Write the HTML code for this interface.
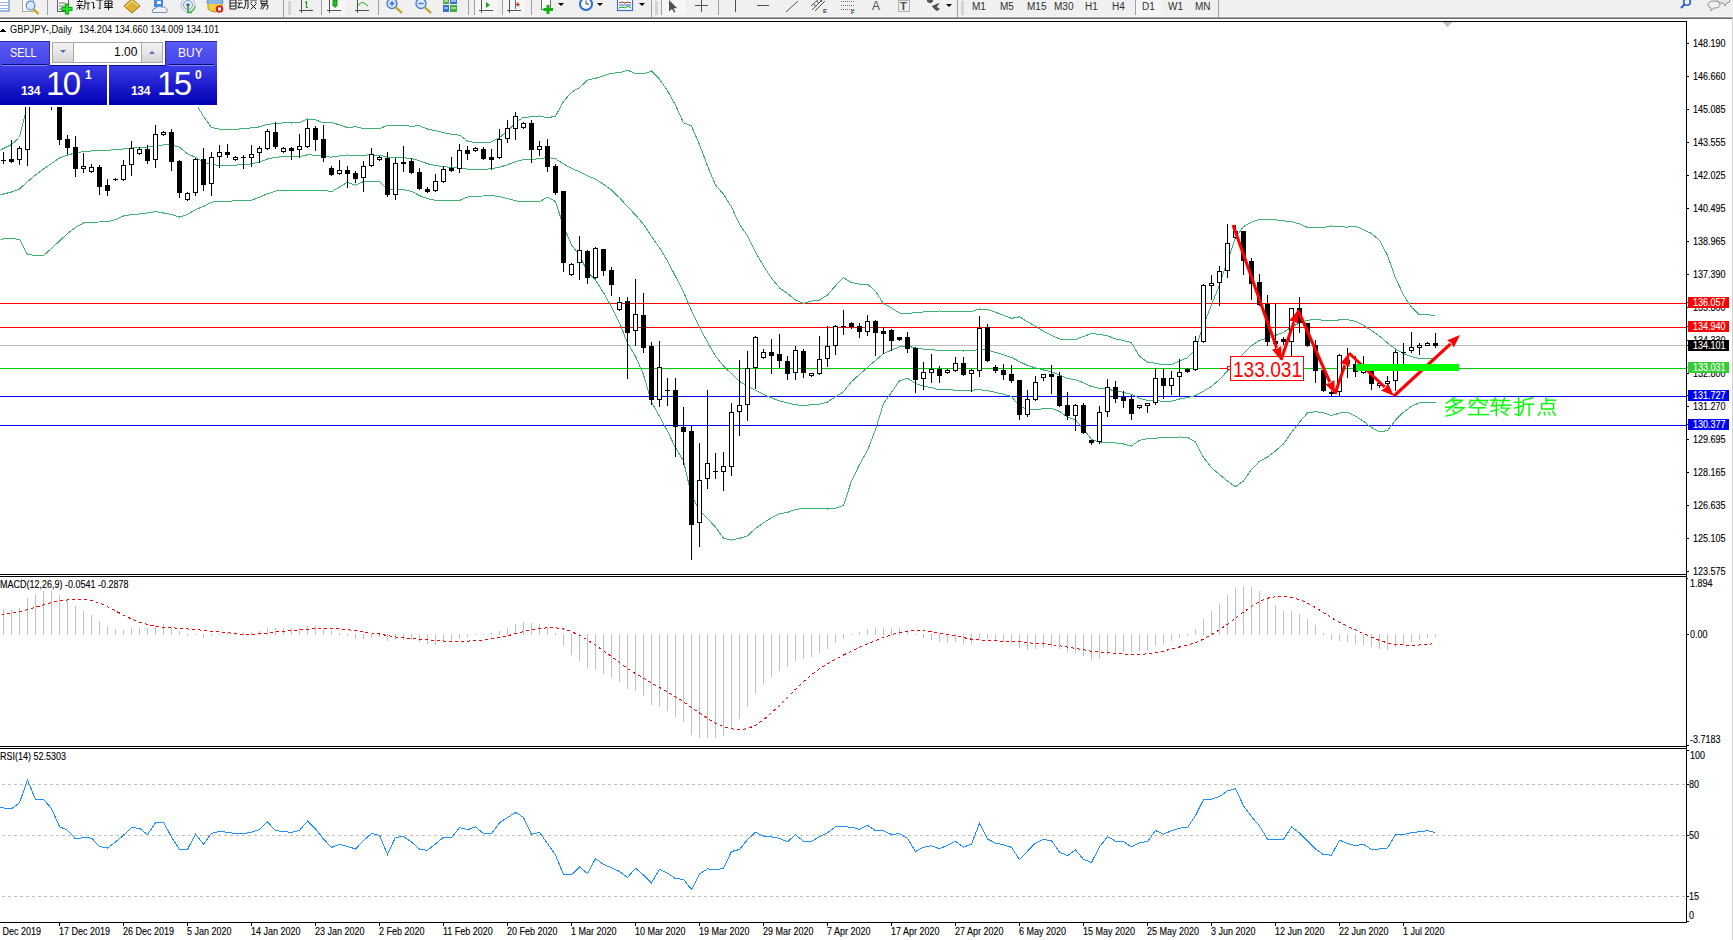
<!DOCTYPE html>
<html><head><meta charset="utf-8"><style>
html,body{margin:0;padding:0;width:1733px;height:940px;overflow:hidden;background:#fff;font-family:"Liberation Sans",sans-serif;}
</style></head><body>
<div style="position:absolute;left:0;top:0;width:1733px;height:17px;background:#f0f0f0"></div>
<div style="position:absolute;left:0;top:17px;width:1733px;height:1px;background:#a0a0a0"></div>
<div style="position:absolute;left:0;top:18px;width:1733px;height:1px;background:#6a6a6a"></div>
<div style="position:absolute;left:0;top:16px;width:1733px;height:1px;background:#f6f6f6"></div>
<svg style="position:absolute;left:0;top:0" width="1733" height="17">
<!-- doc icon -->
<rect x="-2" y="-2" width="11" height="13" fill="#fff" stroke="#3a7ad0" stroke-width="1"/>
<path d="M0 2.5h8M0 5.5h8M0 8.5h8" stroke="#9ab8e8" stroke-width="1"/>
<!-- print preview -->
<rect x="22.5" y="-1.5" width="11" height="13" fill="#fafafa" stroke="#b0a890"/>
<circle cx="30.5" cy="5.5" r="4.3" fill="#dceaf6" stroke="#5a8ed8" stroke-width="1.2"/>
<path d="M33.5 9 L38.5 14" stroke="#c8a020" stroke-width="2.2"/>
<rect x="47" y="0" width="1" height="15" fill="#a0a0a0"/>
<!-- new order -->
<rect x="57.5" y="-1.5" width="11" height="13" fill="#fafafa" stroke="#606060"/>
<path d="M59 3h6M59 6h6M59 9h4" stroke="#707070" stroke-width="1"/>
<path d="M67 3.5 V14.5 M61.5 9 H72.5" stroke="#0a8a0a" stroke-width="4.2"/><path d="M67 4.2 V13.8 M62.2 9 H71.8" stroke="#22e022" stroke-width="2.6"/>
<!-- gold book -->
<path d="M124 6 L132 -1 L140 6 L132 13 Z" fill="#e0b030" stroke="#9a6a10" stroke-width="1"/>
<path d="M125 7 L132 1 L139 6" fill="none" stroke="#fff0a0" stroke-width="1"/>
<!-- cloud -->
<rect x="154" y="-2" width="9" height="9" fill="#3a8ae8"/>
<rect x="157" y="1" width="4" height="3" fill="#fff"/>
<path d="M152 12 Q152 8 156 8 Q158 5 162 7 Q167 7 167 10 Q168 12 166 12.5 L153 12.5 Z" fill="#eef2f8" stroke="#7890b8" stroke-width="1"/>
<!-- signal -->
<circle cx="188" cy="5" r="7" fill="none" stroke="#a8c0e0" stroke-width="1"/>
<circle cx="188" cy="5" r="4.5" fill="none" stroke="#6a98d8" stroke-width="1"/>
<circle cx="188" cy="5" r="1.8" fill="#2a60c8"/>
<path d="M188 5 V12.5 H192" stroke="#30a030" stroke-width="1.5" fill="none"/>
<path d="M190 12 A7 7 0 0 0 195 6" stroke="#70c070" stroke-width="2" fill="none"/>
<!-- auto trade -->
<ellipse cx="215" cy="2" rx="8" ry="4" fill="#8ab8e0" stroke="#5a88b8"/>
<path d="M208 4 L208 9 Q215 15 222 9 L222 4" fill="#f0d040" stroke="#b09020"/>
<circle cx="219.5" cy="9" r="3.8" fill="#d82020"/>
<rect x="218" y="7.5" width="3" height="3" fill="#fff"/>
<!-- separators / grips -->
<rect x="283" y="0" width="1" height="17" fill="#a0a0a0"/>
<path d="M288 2h3M288 4h3M288 6h3M288 8h3M288 10h3M288 12h3M288 14h3" stroke="#b8b8b8" stroke-width="1"/>
<!-- bar chart icon -->
<path d="M301.5 0 V13 M299 10.5 H313" stroke="#505050" stroke-width="1"/>
<path d="M310 11 l3 -0.5 l-3 -1" fill="#505050"/>
<path d="M306.5 1 V8 M306.5 7.5 H308 M305 2.5 H306.5" stroke="#20a020" stroke-width="1.2"/>
<rect x="321" y="0" width="1" height="15" fill="#a0a0a0"/>
<rect x="322" y="0" width="24" height="15" fill="#f6f6f6"/>
<path d="M329.5 0 V13 M327 10.5 H341" stroke="#505050" stroke-width="1"/>
<rect x="333" y="0" width="4" height="6" fill="#20c020" stroke="#108010" stroke-width="0.8"/>
<path d="M335 6 V8" stroke="#108010"/>
<path d="M357.5 0 V13 M355 10.5 H369" stroke="#505050" stroke-width="1"/>
<path d="M357 7 Q361 1 364 3 L368 6" stroke="#20a020" stroke-width="1" fill="none"/>
<rect x="378" y="0" width="1" height="15" fill="#a0a0a0"/>
<!-- zoom in/out -->
<circle cx="392" cy="3.5" r="5" fill="#d8e8f8" stroke="#4a80d0" stroke-width="1.4"/>
<path d="M389.5 3.5h5M392 1v5" stroke="#3a70c8" stroke-width="1.3"/>
<path d="M395.5 7 L402 13" stroke="#c8a020" stroke-width="2.3"/>
<circle cx="421" cy="3.5" r="5" fill="#d8e8f8" stroke="#4a80d0" stroke-width="1.4"/>
<path d="M418.5 3.5h5" stroke="#3a70c8" stroke-width="1.3"/>
<path d="M424.5 7 L431 13" stroke="#c8a020" stroke-width="2.3"/>
<!-- tile windows -->
<rect x="443" y="-1" width="6" height="5" fill="#40b040"/><rect x="450" y="-1" width="7" height="5" fill="#3a70d0"/>
<rect x="443" y="5" width="6" height="7" fill="#3a70d0"/><rect x="450" y="5" width="7" height="7" fill="#40b040"/>
<path d="M444 1h4M451 1h5M444 8h4M451 8h5" stroke="#fff" stroke-width="1"/>
<rect x="468" y="0" width="1" height="15" fill="#a0a0a0"/>
<rect x="474" y="0" width="1" height="15" fill="#a0a0a0"/>
<rect x="475" y="0" width="22" height="15" fill="#f6f6f6"/>
<path d="M481.5 0 V13 M479 10.5 H493" stroke="#505050" stroke-width="1"/>
<path d="M486 2 L490 5 L486 8 Z" fill="#20a020"/>
<rect x="502" y="0" width="1" height="15" fill="#a0a0a0"/>
<rect x="503" y="0" width="22" height="15" fill="#f6f6f6"/>
<path d="M509.5 0 V13 M507 10.5 H521" stroke="#505050" stroke-width="1"/>
<path d="M515.5 0 V9" stroke="#3a70c8" stroke-width="1"/>
<path d="M520 4.5 L516.5 4.5 M518.5 2.5 L516.5 4.5 L518.5 6.5" stroke="#d04010" stroke-width="1.2" fill="none"/>
<rect x="531" y="0" width="1" height="15" fill="#a0a0a0"/>
<!-- indicators add -->
<rect x="541.5" y="-1.5" width="9" height="11" fill="#fafafa" stroke="#707070"/>
<path d="M548 5 V14 M543.5 9.5 H553" stroke="#10b010" stroke-width="3"/>
<path d="M558 3 L564 3 L561 6 Z" fill="#000"/>
<!-- clock -->
<circle cx="586" cy="4" r="7" fill="#2a70d8"/>
<circle cx="586" cy="4" r="5" fill="#f4f8ff"/>
<path d="M586 0.5 V4 H589" stroke="#404040" stroke-width="1" fill="none"/>
<path d="M597 3 L603 3 L600 6 Z" fill="#000"/>
<!-- templates -->
<rect x="617.5" y="-1.5" width="15" height="12" fill="#f8fbff" stroke="#3a70d0" stroke-width="1.2"/>
<path d="M619 3 L622 2 L625 3 L628 2 L631 3" stroke="#b03010" fill="none"/>
<path d="M619 8 L622 7 L625 8 L628 6 L631 8" stroke="#10a010" fill="none"/>
<path d="M619 5h12" stroke="#3a70d0"/>
<path d="M639 3 L645 3 L642 6 Z" fill="#000"/>
<rect x="651" y="0" width="1" height="17" fill="#a0a0a0"/>
<path d="M655 2h3M655 4h3M655 6h3M655 8h3M655 10h3M655 12h3M655 14h3" stroke="#b8b8b8" stroke-width="1"/>
<rect x="661" y="0" width="1" height="15" fill="#a0a0a0"/>
<rect x="662" y="0" width="24" height="15" fill="#f6f6f6"/>
<path d="M669 0 L677 8 L673.5 8.5 L675.5 12 L674 12.5 L672 9 L669 11.5 Z" fill="#505050"/>
<path d="M701.5 0 V12 M695 5.5 H708" stroke="#505050" stroke-width="1"/>
<rect x="718" y="0" width="1" height="15" fill="#a0a0a0"/>
<path d="M735.5 0 V12" stroke="#505050" stroke-width="1"/>
<path d="M757 5.5 H769" stroke="#505050" stroke-width="1"/>
<path d="M786 12 L798 1" stroke="#505050" stroke-width="1"/>
<!-- channel E -->
<path d="M812 10 L822 0 M815 11 L825 1 M811 6 L821 -3" stroke="#505050" stroke-width="1"/>
<path d="M814 4 L816 7 M817 1 L819 4 M820 -1 L822 2" stroke="#505050"/>
<text x="823" y="13" font-size="6" font-weight="bold" fill="#404040" font-family="Liberation Sans">E</text>
<!-- fibo F -->
<path d="M841 1.5h13M841 5.5h13M841 9.5h13" stroke="#707070" stroke-width="1" stroke-dasharray="1 1"/>
<text x="851" y="14" font-size="6" font-weight="bold" fill="#404040" font-family="Liberation Sans">F</text>
<text x="872" y="10" font-size="12" fill="#505050" font-family="Liberation Sans">A</text>
<rect x="898.5" y="0.5" width="11" height="11" fill="none" stroke="#707070" stroke-dasharray="1 1"/>
<text x="900" y="10" font-size="11" font-weight="bold" fill="#505050" font-family="Liberation Sans">T</text>
<!-- arrows icon -->
<path d="M927 1 L930 -1 L933 1 L930 3 Z M932 6 L935 9 L939 3" fill="#505050" stroke="#505050" stroke-width="1"/>
<path d="M934 9 L937 7 L940 9 L937 11 Z" fill="#505050"/>
<path d="M946 4 L952 4 L949 7 Z" fill="#000"/>
<rect x="957" y="0" width="1" height="17" fill="#a0a0a0"/>
<path d="M961 2h3M961 4h3M961 6h3M961 8h3M961 10h3M961 12h3M961 14h3" stroke="#b8b8b8" stroke-width="1"/>
<rect x="1135" y="0" width="1" height="15" fill="#a0a0a0"/>
<rect x="1136" y="0" width="25" height="15" fill="#f6f6f6"/>
<rect x="1218" y="0" width="1" height="17" fill="#a0a0a0"/>
<g font-family="Liberation Sans" font-size="10" fill="#303030">
<text x="972" y="10">M1</text><text x="1000" y="10">M5</text><text x="1027" y="10">M15</text><text x="1054" y="10">M30</text>
<text x="1085" y="10">H1</text><text x="1112" y="10">H4</text><text x="1142" y="10">D1</text><text x="1168" y="10">W1</text><text x="1195" y="10">MN</text>
</g>
<!-- search + chat -->
<circle cx="1687" cy="2" r="3.3" fill="none" stroke="#2a60d0" stroke-width="1.6"/>
<path d="M1684.5 4.5 L1681 8" stroke="#2a60d0" stroke-width="2.2"/>
<path d="M1708 5 Q1708 1 1714 1 Q1720 1 1720 5 Q1720 8 1714 8 L1711 11 L1711 8 Q1708 7 1708 5 Z" fill="#f0f0f0" stroke="#909090"/>
<path d="M1717 -1 Q1717 -4 1724 -4 Q1730 -4 1730 0 Q1730 3 1726 3.5 L1725 6 L1723 3 Q1717 3 1717 -1 Z" fill="#e8e8e8" stroke="#909090"/>
</svg>
<svg style="position:absolute;left:0;top:0" width="300" height="17">
<g stroke="#101010" stroke-width="0.95" fill="none" transform="translate(0,-1)">
<!-- 新 -->
<path d="M79.5 -1v3M77 2.5h6M78 4l1 1.5M81.5 4l-1 1.5M76.5 6.5h7M79.5 6.5v4M79 8l-2.5 2M80 8l2.5 2"/>
<path d="M85 0.5l4-1M85 0.5v5q0 3-1.5 5M85 4h5M88 4v7"/>
<!-- 订 -->
<path d="M92 0l1 1M91.5 3.5h2v6l1.5-1.5M96 1h7M100 1v9l-1.5-1"/>
<!-- 单 -->
<path d="M106 -1l1 1.5M111 -1l-1 1.5M105 2h7v5h-7zM105 4.5h7M108.5 2v9M104 8.5h9"/>
<!-- 自动交易 -->
<path d="M232 -1l1 1.5M230 1h6v9h-6zM230 4h6M230 7h6"/>
<path d="M238 1h4M237.5 4h5M240 4l-2 5l4-1M242.5 8l0.5 1.5M244 1h4M246 1q0 6-2 9M248 1v8l-1 1"/>
<path d="M253.5 -1v1.5M250 1h7M252 2.5l-1.5 2M255 2.5l1.5 2M251 5l5 5M256 5l-5.5 5.5"/>
<path d="M261 0h6v4.5h-6zM261 2.2h6M261 6h7q0 4-1.5 4.5M263 6l-2.5 4M265 6l-2.5 4.5"/>
</g>
</svg>

<svg width="1733" height="940" style="position:absolute;left:0;top:0" shape-rendering="crispEdges" font-family="Liberation Sans, sans-serif"><defs><clipPath id="cm"><rect x="0" y="22" width="1686" height="552"/></clipPath><clipPath id="cmacd"><rect x="0" y="577" width="1686" height="169"/></clipPath><clipPath id="crsi"><rect x="0" y="749" width="1686" height="173"/></clipPath></defs><rect x="0" y="21" width="1687" height="1" fill="#000"/><rect x="1686" y="21" width="1" height="902" fill="#000"/><rect x="0" y="574" width="1687" height="1" fill="#000"/><rect x="0" y="576" width="1687" height="1" fill="#000"/><rect x="0" y="746" width="1687" height="1" fill="#000"/><rect x="0" y="748" width="1687" height="1" fill="#000"/><rect x="0" y="922" width="1687" height="1" fill="#000"/><rect x="1732" y="18" width="1" height="922" fill="#d0d0d0"/><rect x="0" y="303" width="1686" height="1" fill="#ff0000"/><rect x="0" y="327" width="1686" height="1" fill="#ff0000"/><rect x="0" y="345" width="1686" height="1" fill="#c0c0c0"/><rect x="0" y="368" width="1686" height="1" fill="#00cc00"/><rect x="0" y="396" width="1686" height="1" fill="#0000ff"/><rect x="0" y="425" width="1686" height="1" fill="#0000ff"/><g clip-path="url(#cm)" transform="translate(0.5,0.5)"><path d="M-5 152.0 L3 148.0 L11 144.0 L19 137.0 L27 105.0 L35 90.0 L43 80.0 L51 75.0 L59 70.0 L67 70.0 L75 70.0 L83 70.0 L91 70.0 L99 70.0 L107 70.0 L115 70.0 L123 70.0 L131 70.0 L139 70.0 L147 70.0 L155 78.1 L163 76.8 L171 76.8 L179 75.8 L187 91.9 L195 102.6 L203 116.0 L211 126.9 L219 128.7 L227 129.5 L235 128.8 L243 128.2 L251 127.3 L259 126.4 L267 123.8 L275 123.2 L283 122.3 L291 122.5 L299 122.2 L307 118.5 L315 119.4 L323 122.3 L331 122.0 L339 124.4 L347 127.2 L355 126.2 L363 128.1 L371 127.9 L379 128.2 L387 124.9 L395 125.1 L403 125.3 L411 125.6 L419 125.4 L427 128.5 L435 130.2 L443 132.1 L451 133.9 L459 134.6 L467 140.5 L475 142.3 L483 142.5 L491 141.5 L499 137.1 L507 130.6 L515 122.1 L523 116.7 L531 116.4 L539 115.4 L547 117.2 L555 115.8 L563 101.0 L571 91.7 L579 87.1 L587 79.6 L595 77.8 L603 75.4 L611 72.8 L619 72.2 L627 69.7 L635 73.0 L643 73.5 L651 70.4 L659 78.7 L667 90.2 L675 104.6 L683 122.3 L691 125.4 L699 144.1 L707 165.3 L715 184.5 L723 193.7 L731 206.6 L739 223.9 L747 235.4 L755 251.6 L763 265.4 L771 277.6 L779 287.4 L787 292.9 L795 299.5 L803 302.9 L811 300.6 L819 299.6 L827 294.5 L835 285.3 L843 277.2 L851 282.1 L859 283.6 L867 283.6 L875 290.7 L883 303.3 L891 307.4 L899 312.5 L907 313.0 L915 312.1 L923 311.5 L931 311.2 L939 310.5 L947 310.8 L955 311.0 L963 310.8 L971 311.0 L979 308.5 L987 308.9 L995 311.7 L1003 314.8 L1011 317.9 L1019 316.3 L1027 321.3 L1035 325.7 L1043 330.8 L1051 334.8 L1059 338.4 L1067 339.5 L1075 339.0 L1083 335.9 L1091 333.1 L1099 333.9 L1107 335.4 L1115 338.4 L1123 340.0 L1131 342.3 L1139 355.9 L1147 361.5 L1155 362.8 L1163 364.5 L1171 364.0 L1179 360.5 L1187 357.2 L1195 348.6 L1203 324.2 L1211 304.7 L1219 284.4 L1227 260.4 L1235 237.4 L1243 226.0 L1251 221.6 L1259 219.1 L1267 218.8 L1275 219.3 L1283 220.3 L1291 221.2 L1299 223.4 L1307 226.9 L1315 227.4 L1323 226.9 L1331 225.5 L1339 226.3 L1347 226.6 L1355 225.7 L1363 229.2 L1371 233.0 L1379 239.9 L1387 254.9 L1395 277.5 L1403 294.5 L1411 306.8 L1419 314.3 L1427 314.4 L1435 314.7" fill="none" stroke="#3cb371" stroke-width="1" /><path d="M-5 195.5 L3 193.5 L11 191.5 L19 188.5 L27 181.0 L35 174.5 L43 168.5 L51 163.0 L59 157.5 L67 154.5 L75 152.5 L83 151.0 L91 150.5 L99 150.2 L107 149.8 L115 149.2 L123 148.5 L131 147.6 L139 147.0 L147 146.5 L155 145.8 L163 144.4 L171 144.4 L179 146.7 L187 153.3 L195 156.8 L203 161.6 L211 164.2 L219 164.8 L227 165.2 L235 164.6 L243 164.1 L251 163.4 L259 161.5 L267 158.5 L275 156.9 L283 156.1 L291 156.2 L299 156.0 L307 154.3 L315 154.7 L323 155.9 L331 156.6 L339 155.4 L347 154.5 L355 155.5 L363 154.6 L371 154.4 L379 154.7 L387 156.7 L395 157.0 L403 157.2 L411 158.2 L419 160.2 L427 163.3 L435 165.0 L443 166.1 L451 167.1 L459 167.2 L467 168.6 L475 168.9 L483 169.0 L491 168.2 L499 166.7 L507 164.3 L515 161.2 L523 159.1 L531 158.8 L539 158.3 L547 156.9 L555 158.4 L563 163.4 L571 168.0 L579 171.1 L587 175.3 L595 178.7 L603 183.8 L611 189.6 L619 197.2 L627 206.1 L635 214.4 L643 223.8 L651 235.9 L659 247.3 L667 260.4 L675 275.9 L683 291.4 L691 310.1 L699 326.9 L707 341.6 L715 355.6 L723 365.7 L731 373.1 L739 380.9 L747 385.4 L755 389.8 L763 393.9 L771 397.4 L779 400.4 L787 402.4 L795 404.2 L803 405.4 L811 404.1 L819 403.7 L827 401.5 L835 396.4 L843 391.1 L851 381.2 L859 373.9 L867 366.8 L875 359.9 L883 353.2 L891 349.6 L899 346.4 L907 345.4 L915 347.6 L923 348.6 L931 349.2 L939 349.9 L947 349.8 L955 350.4 L963 350.5 L971 350.4 L979 348.8 L987 349.6 L995 351.8 L1003 354.2 L1011 356.9 L1019 361.1 L1027 365.0 L1035 367.4 L1043 369.5 L1051 371.3 L1059 374.6 L1067 378.0 L1075 379.2 L1083 382.3 L1091 386.0 L1099 387.8 L1107 388.6 L1115 390.4 L1123 391.8 L1131 393.9 L1139 397.8 L1147 399.9 L1155 400.2 L1163 400.8 L1171 400.6 L1179 398.5 L1187 397.1 L1195 395.1 L1203 390.6 L1211 385.9 L1219 379.1 L1227 370.5 L1235 361.8 L1243 353.2 L1251 345.2 L1259 339.9 L1267 337.6 L1275 334.9 L1283 331.9 L1291 326.6 L1299 322.5 L1307 319.6 L1315 319.3 L1323 319.6 L1331 320.3 L1339 319.4 L1347 319.2 L1355 320.8 L1363 324.9 L1371 330.0 L1379 335.6 L1387 342.5 L1395 348.6 L1403 353.1 L1411 356.2 L1419 358.2 L1427 358.3 L1435 358.4" fill="none" stroke="#3cb371" stroke-width="1" /><path d="M-5 238.8 L3 238.5 L11 238.2 L19 238.8 L27 254.0 L35 255.0 L43 255.0 L51 248.0 L59 240.5 L67 233.0 L75 227.0 L83 222.5 L91 221.6 L99 221.5 L107 221.3 L115 219.0 L123 215.5 L131 214.0 L139 213.5 L147 212.5 L155 211.0 L163 212.5 L171 214.0 L179 216.5 L187 214.0 L195 209.0 L203 206.0 L211 201.6 L219 201.0 L227 200.8 L235 200.3 L243 200.0 L251 199.6 L259 196.6 L267 193.2 L275 190.6 L283 189.8 L291 189.8 L299 189.8 L307 190.2 L315 189.9 L323 189.6 L331 191.2 L339 186.5 L347 181.8 L355 184.8 L363 181.0 L371 180.9 L379 181.1 L387 188.5 L395 188.9 L403 189.2 L411 190.8 L419 195.1 L427 198.1 L435 199.8 L443 200.0 L451 200.2 L459 199.9 L467 196.6 L475 195.6 L483 195.5 L491 194.9 L499 196.2 L507 198.1 L515 200.3 L523 201.4 L531 201.3 L539 201.2 L547 196.6 L555 201.0 L563 225.9 L571 244.3 L579 255.0 L587 271.1 L595 279.6 L603 292.2 L611 306.3 L619 322.1 L627 342.5 L635 355.8 L643 374.2 L651 401.4 L659 415.9 L667 430.6 L675 447.3 L683 460.5 L691 494.9 L699 509.6 L707 518.0 L715 526.6 L723 537.7 L731 539.6 L739 537.8 L747 535.3 L755 528.0 L763 522.3 L771 517.2 L779 513.3 L787 511.9 L795 508.9 L803 508.0 L811 507.6 L819 507.8 L827 508.5 L835 507.6 L843 505.1 L851 480.4 L859 464.1 L867 449.9 L875 429.0 L883 403.1 L891 391.9 L899 380.2 L907 377.8 L915 383.0 L923 385.6 L931 387.2 L939 389.4 L947 388.7 L955 389.8 L963 390.2 L971 389.7 L979 389.1 L987 390.2 L995 391.9 L1003 393.7 L1011 396.0 L1019 405.9 L1027 408.7 L1035 409.2 L1043 408.2 L1051 407.8 L1059 410.9 L1067 416.5 L1075 419.5 L1083 428.7 L1091 438.9 L1099 441.7 L1107 441.9 L1115 442.5 L1123 443.5 L1131 445.6 L1139 439.7 L1147 438.3 L1155 437.7 L1163 437.1 L1171 437.3 L1179 436.5 L1187 437.0 L1195 441.5 L1203 457.0 L1211 467.1 L1219 473.9 L1227 480.6 L1235 486.2 L1243 480.4 L1251 468.9 L1259 460.7 L1267 456.5 L1275 450.4 L1283 443.5 L1291 432.0 L1299 421.6 L1307 412.4 L1315 411.2 L1323 412.2 L1331 415.1 L1339 412.6 L1347 411.8 L1355 415.8 L1363 420.7 L1371 427.0 L1379 431.3 L1387 430.1 L1395 419.6 L1403 411.7 L1411 405.7 L1419 402.2 L1427 402.2 L1435 402.2" fill="none" stroke="#3cb371" stroke-width="1" /></g><g clip-path="url(#cmacd)"><rect x="3" y="609" width="1" height="26" fill="#c0c0c0"/><rect x="11" y="610" width="1" height="25" fill="#c0c0c0"/><rect x="19" y="608" width="1" height="27" fill="#c0c0c0"/><rect x="27" y="598" width="1" height="37" fill="#c0c0c0"/><rect x="35" y="594" width="1" height="41" fill="#c0c0c0"/><rect x="43" y="591" width="1" height="44" fill="#c0c0c0"/><rect x="51" y="591" width="1" height="44" fill="#c0c0c0"/><rect x="59" y="595" width="1" height="40" fill="#c0c0c0"/><rect x="67" y="600" width="1" height="35" fill="#c0c0c0"/><rect x="75" y="606" width="1" height="29" fill="#c0c0c0"/><rect x="83" y="611" width="1" height="24" fill="#c0c0c0"/><rect x="91" y="615" width="1" height="20" fill="#c0c0c0"/><rect x="99" y="621" width="1" height="14" fill="#c0c0c0"/><rect x="107" y="626" width="1" height="9" fill="#c0c0c0"/><rect x="115" y="629" width="1" height="6" fill="#c0c0c0"/><rect x="123" y="630" width="1" height="5" fill="#c0c0c0"/><rect x="131" y="628" width="1" height="7" fill="#c0c0c0"/><rect x="139" y="628" width="1" height="7" fill="#c0c0c0"/><rect x="147" y="628" width="1" height="7" fill="#c0c0c0"/><rect x="155" y="626" width="1" height="9" fill="#c0c0c0"/><rect x="163" y="624" width="1" height="11" fill="#c0c0c0"/><rect x="171" y="626" width="1" height="9" fill="#c0c0c0"/><rect x="179" y="631" width="1" height="4" fill="#c0c0c0"/><rect x="187" y="634" width="1" height="2" fill="#c0c0c0"/><rect x="195" y="634" width="1" height="1" fill="#c0c0c0"/><rect x="203" y="634" width="1" height="4" fill="#c0c0c0"/><rect x="211" y="634" width="1" height="2" fill="#c0c0c0"/><rect x="219" y="634" width="1" height="1" fill="#c0c0c0"/><rect x="227" y="633" width="1" height="2" fill="#c0c0c0"/><rect x="235" y="632" width="1" height="3" fill="#c0c0c0"/><rect x="243" y="632" width="1" height="3" fill="#c0c0c0"/><rect x="251" y="632" width="1" height="3" fill="#c0c0c0"/><rect x="259" y="631" width="1" height="4" fill="#c0c0c0"/><rect x="267" y="628" width="1" height="7" fill="#c0c0c0"/><rect x="275" y="628" width="1" height="7" fill="#c0c0c0"/><rect x="283" y="628" width="1" height="7" fill="#c0c0c0"/><rect x="291" y="628" width="1" height="7" fill="#c0c0c0"/><rect x="299" y="628" width="1" height="7" fill="#c0c0c0"/><rect x="307" y="626" width="1" height="9" fill="#c0c0c0"/><rect x="315" y="626" width="1" height="9" fill="#c0c0c0"/><rect x="323" y="628" width="1" height="7" fill="#c0c0c0"/><rect x="331" y="631" width="1" height="4" fill="#c0c0c0"/><rect x="339" y="633" width="1" height="2" fill="#c0c0c0"/><rect x="347" y="634" width="1" height="2" fill="#c0c0c0"/><rect x="355" y="634" width="1" height="5" fill="#c0c0c0"/><rect x="363" y="634" width="1" height="5" fill="#c0c0c0"/><rect x="371" y="634" width="1" height="4" fill="#c0c0c0"/><rect x="379" y="634" width="1" height="3" fill="#c0c0c0"/><rect x="387" y="634" width="1" height="7" fill="#c0c0c0"/><rect x="395" y="634" width="1" height="6" fill="#c0c0c0"/><rect x="403" y="634" width="1" height="6" fill="#c0c0c0"/><rect x="411" y="634" width="1" height="6" fill="#c0c0c0"/><rect x="419" y="634" width="1" height="8" fill="#c0c0c0"/><rect x="427" y="634" width="1" height="10" fill="#c0c0c0"/><rect x="435" y="634" width="1" height="11" fill="#c0c0c0"/><rect x="443" y="634" width="1" height="9" fill="#c0c0c0"/><rect x="451" y="634" width="1" height="8" fill="#c0c0c0"/><rect x="459" y="634" width="1" height="5" fill="#c0c0c0"/><rect x="467" y="634" width="1" height="3" fill="#c0c0c0"/><rect x="475" y="634" width="1" height="1" fill="#c0c0c0"/><rect x="483" y="634" width="1" height="1" fill="#c0c0c0"/><rect x="491" y="633" width="1" height="2" fill="#c0c0c0"/><rect x="499" y="631" width="1" height="4" fill="#c0c0c0"/><rect x="507" y="628" width="1" height="7" fill="#c0c0c0"/><rect x="515" y="624" width="1" height="11" fill="#c0c0c0"/><rect x="523" y="622" width="1" height="13" fill="#c0c0c0"/><rect x="531" y="623" width="1" height="12" fill="#c0c0c0"/><rect x="539" y="624" width="1" height="11" fill="#c0c0c0"/><rect x="547" y="627" width="1" height="8" fill="#c0c0c0"/><rect x="555" y="633" width="1" height="2" fill="#c0c0c0"/><rect x="563" y="634" width="1" height="12" fill="#c0c0c0"/><rect x="571" y="634" width="1" height="21" fill="#c0c0c0"/><rect x="579" y="634" width="1" height="27" fill="#c0c0c0"/><rect x="587" y="634" width="1" height="34" fill="#c0c0c0"/><rect x="595" y="634" width="1" height="36" fill="#c0c0c0"/><rect x="603" y="634" width="1" height="40" fill="#c0c0c0"/><rect x="611" y="634" width="1" height="44" fill="#c0c0c0"/><rect x="619" y="634" width="1" height="48" fill="#c0c0c0"/><rect x="627" y="634" width="1" height="55" fill="#c0c0c0"/><rect x="635" y="634" width="1" height="57" fill="#c0c0c0"/><rect x="643" y="634" width="1" height="62" fill="#c0c0c0"/><rect x="651" y="634" width="1" height="71" fill="#c0c0c0"/><rect x="659" y="634" width="1" height="73" fill="#c0c0c0"/><rect x="667" y="634" width="1" height="77" fill="#c0c0c0"/><rect x="675" y="634" width="1" height="83" fill="#c0c0c0"/><rect x="683" y="634" width="1" height="88" fill="#c0c0c0"/><rect x="691" y="634" width="1" height="101" fill="#c0c0c0"/><rect x="699" y="634" width="1" height="104" fill="#c0c0c0"/><rect x="707" y="634" width="1" height="104" fill="#c0c0c0"/><rect x="715" y="634" width="1" height="104" fill="#c0c0c0"/><rect x="723" y="634" width="1" height="102" fill="#c0c0c0"/><rect x="731" y="634" width="1" height="94" fill="#c0c0c0"/><rect x="739" y="634" width="1" height="85" fill="#c0c0c0"/><rect x="747" y="634" width="1" height="73" fill="#c0c0c0"/><rect x="755" y="634" width="1" height="60" fill="#c0c0c0"/><rect x="763" y="634" width="1" height="50" fill="#c0c0c0"/><rect x="771" y="634" width="1" height="43" fill="#c0c0c0"/><rect x="779" y="634" width="1" height="37" fill="#c0c0c0"/><rect x="787" y="634" width="1" height="33" fill="#c0c0c0"/><rect x="795" y="634" width="1" height="27" fill="#c0c0c0"/><rect x="803" y="634" width="1" height="25" fill="#c0c0c0"/><rect x="811" y="634" width="1" height="23" fill="#c0c0c0"/><rect x="819" y="634" width="1" height="19" fill="#c0c0c0"/><rect x="827" y="634" width="1" height="15" fill="#c0c0c0"/><rect x="835" y="634" width="1" height="9" fill="#c0c0c0"/><rect x="843" y="634" width="1" height="5" fill="#c0c0c0"/><rect x="851" y="634" width="1" height="1" fill="#c0c0c0"/><rect x="859" y="632" width="1" height="3" fill="#c0c0c0"/><rect x="867" y="629" width="1" height="6" fill="#c0c0c0"/><rect x="875" y="628" width="1" height="7" fill="#c0c0c0"/><rect x="883" y="628" width="1" height="7" fill="#c0c0c0"/><rect x="891" y="628" width="1" height="7" fill="#c0c0c0"/><rect x="899" y="628" width="1" height="7" fill="#c0c0c0"/><rect x="907" y="630" width="1" height="5" fill="#c0c0c0"/><rect x="915" y="634" width="1" height="1" fill="#c0c0c0"/><rect x="923" y="634" width="1" height="4" fill="#c0c0c0"/><rect x="931" y="634" width="1" height="6" fill="#c0c0c0"/><rect x="939" y="634" width="1" height="8" fill="#c0c0c0"/><rect x="947" y="634" width="1" height="9" fill="#c0c0c0"/><rect x="955" y="634" width="1" height="8" fill="#c0c0c0"/><rect x="963" y="634" width="1" height="10" fill="#c0c0c0"/><rect x="971" y="634" width="1" height="10" fill="#c0c0c0"/><rect x="979" y="634" width="1" height="5" fill="#c0c0c0"/><rect x="987" y="634" width="1" height="5" fill="#c0c0c0"/><rect x="995" y="634" width="1" height="6" fill="#c0c0c0"/><rect x="1003" y="634" width="1" height="8" fill="#c0c0c0"/><rect x="1011" y="634" width="1" height="9" fill="#c0c0c0"/><rect x="1019" y="634" width="1" height="14" fill="#c0c0c0"/><rect x="1027" y="634" width="1" height="16" fill="#c0c0c0"/><rect x="1035" y="634" width="1" height="15" fill="#c0c0c0"/><rect x="1043" y="634" width="1" height="14" fill="#c0c0c0"/><rect x="1051" y="634" width="1" height="13" fill="#c0c0c0"/><rect x="1059" y="634" width="1" height="15" fill="#c0c0c0"/><rect x="1067" y="634" width="1" height="18" fill="#c0c0c0"/><rect x="1075" y="634" width="1" height="19" fill="#c0c0c0"/><rect x="1083" y="634" width="1" height="22" fill="#c0c0c0"/><rect x="1091" y="634" width="1" height="26" fill="#c0c0c0"/><rect x="1099" y="634" width="1" height="25" fill="#c0c0c0"/><rect x="1107" y="634" width="1" height="21" fill="#c0c0c0"/><rect x="1115" y="634" width="1" height="20" fill="#c0c0c0"/><rect x="1123" y="634" width="1" height="18" fill="#c0c0c0"/><rect x="1131" y="634" width="1" height="18" fill="#c0c0c0"/><rect x="1139" y="634" width="1" height="17" fill="#c0c0c0"/><rect x="1147" y="634" width="1" height="16" fill="#c0c0c0"/><rect x="1155" y="634" width="1" height="12" fill="#c0c0c0"/><rect x="1163" y="634" width="1" height="10" fill="#c0c0c0"/><rect x="1171" y="634" width="1" height="7" fill="#c0c0c0"/><rect x="1179" y="634" width="1" height="4" fill="#c0c0c0"/><rect x="1187" y="634" width="1" height="2" fill="#c0c0c0"/><rect x="1195" y="629" width="1" height="6" fill="#c0c0c0"/><rect x="1203" y="619" width="1" height="16" fill="#c0c0c0"/><rect x="1211" y="611" width="1" height="24" fill="#c0c0c0"/><rect x="1219" y="604" width="1" height="31" fill="#c0c0c0"/><rect x="1227" y="595" width="1" height="40" fill="#c0c0c0"/><rect x="1235" y="588" width="1" height="47" fill="#c0c0c0"/><rect x="1243" y="586" width="1" height="49" fill="#c0c0c0"/><rect x="1251" y="587" width="1" height="48" fill="#c0c0c0"/><rect x="1259" y="591" width="1" height="44" fill="#c0c0c0"/><rect x="1267" y="599" width="1" height="36" fill="#c0c0c0"/><rect x="1275" y="605" width="1" height="30" fill="#c0c0c0"/><rect x="1283" y="611" width="1" height="24" fill="#c0c0c0"/><rect x="1291" y="611" width="1" height="24" fill="#c0c0c0"/><rect x="1299" y="614" width="1" height="21" fill="#c0c0c0"/><rect x="1307" y="619" width="1" height="16" fill="#c0c0c0"/><rect x="1315" y="625" width="1" height="10" fill="#c0c0c0"/><rect x="1323" y="633" width="1" height="2" fill="#c0c0c0"/><rect x="1331" y="634" width="1" height="6" fill="#c0c0c0"/><rect x="1339" y="634" width="1" height="7" fill="#c0c0c0"/><rect x="1347" y="634" width="1" height="8" fill="#c0c0c0"/><rect x="1355" y="634" width="1" height="10" fill="#c0c0c0"/><rect x="1363" y="634" width="1" height="11" fill="#c0c0c0"/><rect x="1371" y="634" width="1" height="13" fill="#c0c0c0"/><rect x="1379" y="634" width="1" height="15" fill="#c0c0c0"/><rect x="1387" y="634" width="1" height="16" fill="#c0c0c0"/><rect x="1395" y="634" width="1" height="13" fill="#c0c0c0"/><rect x="1403" y="634" width="1" height="11" fill="#c0c0c0"/><rect x="1411" y="634" width="1" height="8" fill="#c0c0c0"/><rect x="1419" y="634" width="1" height="6" fill="#c0c0c0"/><rect x="1427" y="634" width="1" height="4" fill="#c0c0c0"/><rect x="1435" y="634" width="1" height="3" fill="#c0c0c0"/><g transform="translate(0.5,0.5)"><path d="M-5 614.0 L3 613.6 L11 612.4 L19 611.3 L27 609.2 L35 606.8 L43 604.3 L51 602.0 L59 600.4 L67 599.4 L75 599.0 L83 599.2 L91 600.0 L99 602.5 L107 606.1 L115 610.4 L123 614.7 L131 618.5 L139 621.6 L147 624.1 L155 625.7 L163 626.7 L171 627.3 L179 627.8 L187 628.5 L195 629.0 L203 629.9 L211 630.8 L219 631.4 L227 632.2 L235 633.1 L243 633.8 L251 633.8 L259 633.3 L267 632.6 L275 631.6 L283 630.7 L291 630.1 L299 629.5 L307 628.7 L315 628.0 L323 627.6 L331 627.6 L339 628.2 L347 629.1 L355 630.2 L363 631.3 L371 632.4 L379 633.5 L387 635.1 L395 636.5 L403 637.3 L411 638.0 L419 638.6 L427 639.3 L435 639.9 L443 640.5 L451 641.1 L459 640.9 L467 640.6 L475 640.1 L483 639.4 L491 638.5 L499 637.1 L507 635.3 L515 633.2 L523 631.1 L531 629.4 L539 628.0 L547 627.3 L555 627.2 L563 628.5 L571 631.1 L579 634.7 L587 639.5 L595 644.7 L603 650.2 L611 656.0 L619 662.0 L627 668.1 L635 673.1 L643 677.6 L651 682.5 L659 686.9 L667 691.5 L675 696.3 L683 701.2 L691 707.0 L699 712.6 L707 717.9 L715 722.6 L723 726.1 L731 728.3 L739 729.2 L747 728.1 L755 724.9 L763 719.3 L771 712.5 L779 704.9 L787 697.0 L795 688.7 L803 681.1 L811 674.2 L819 668.2 L827 663.3 L835 658.7 L843 654.5 L851 650.6 L859 646.8 L867 643.4 L875 640.1 L883 636.9 L891 634.2 L899 632.0 L907 630.6 L915 630.2 L923 630.4 L931 631.2 L939 632.4 L947 633.9 L955 635.4 L963 637.1 L971 638.7 L979 639.6 L987 640.1 L995 640.4 L1003 640.6 L1011 640.7 L1019 641.4 L1027 642.2 L1035 642.9 L1043 643.3 L1051 644.2 L1059 645.3 L1067 646.6 L1075 647.9 L1083 649.3 L1091 650.7 L1099 651.7 L1107 652.3 L1115 653.0 L1123 653.5 L1131 653.9 L1139 653.8 L1147 653.4 L1155 652.3 L1163 650.5 L1171 648.5 L1179 646.5 L1187 644.5 L1195 642.1 L1203 638.6 L1211 634.2 L1219 629.2 L1227 623.7 L1235 617.6 L1243 611.5 L1251 606.0 L1259 601.1 L1267 597.7 L1275 596.2 L1283 596.1 L1291 597.0 L1299 599.1 L1307 602.5 L1315 607.0 L1323 612.0 L1331 617.4 L1339 621.9 L1347 625.9 L1355 629.4 L1363 633.1 L1371 636.6 L1379 639.9 L1387 642.5 L1395 644.0 L1403 644.5 L1411 644.7 L1419 644.5 L1427 643.9 L1435 643.0" fill="none" stroke="#ff0000" stroke-width="1" stroke-dasharray="3 3"/></g></g><g clip-path="url(#crsi)"><path d="M0 784.5 L1686 784.5" stroke="#c0c0c0" stroke-width="1" stroke-dasharray="3 3" stroke-dashoffset="4"/><path d="M0 835.5 L1686 835.5" stroke="#c0c0c0" stroke-width="1" stroke-dasharray="3 3" stroke-dashoffset="4"/><path d="M0 896.5 L1686 896.5" stroke="#c0c0c0" stroke-width="1" stroke-dasharray="3 3" stroke-dashoffset="4"/><g transform="translate(0.5,0.5)"><path d="M-5 807.0 L3 807.4 L11 808.4 L19 802.2 L27 779.5 L35 799.1 L43 798.9 L51 808.0 L59 826.2 L67 829.7 L75 838.4 L83 837.2 L91 837.6 L99 846.0 L107 847.5 L115 841.4 L123 834.7 L131 827.2 L139 827.7 L147 834.0 L155 822.3 L163 821.6 L171 836.7 L179 848.9 L187 848.9 L195 833.7 L203 843.6 L211 832.8 L219 831.0 L227 831.8 L235 833.2 L243 833.2 L251 831.8 L259 828.9 L267 821.3 L275 830.3 L283 830.8 L291 832.0 L299 829.8 L307 820.7 L315 828.4 L323 838.6 L331 846.9 L339 843.9 L347 845.9 L355 848.5 L363 840.0 L371 833.0 L379 834.8 L387 854.0 L395 836.7 L403 836.2 L411 841.5 L419 848.6 L427 849.9 L435 843.4 L443 836.8 L451 837.4 L459 827.0 L467 829.3 L475 826.2 L483 833.1 L491 833.1 L499 822.2 L507 817.0 L515 811.8 L523 817.0 L531 834.0 L539 831.9 L547 843.1 L555 854.4 L563 874.1 L571 874.3 L579 866.5 L587 873.1 L595 858.2 L603 864.0 L611 867.2 L619 871.0 L627 877.0 L635 867.8 L643 874.5 L651 882.4 L659 868.8 L667 872.6 L675 878.1 L683 878.8 L691 889.1 L699 873.6 L707 868.3 L715 869.4 L723 867.7 L731 851.0 L739 849.0 L747 839.1 L755 831.7 L763 835.5 L771 836.5 L779 837.8 L787 841.3 L795 834.3 L803 840.7 L811 840.7 L819 836.3 L827 832.3 L835 826.3 L843 826.3 L851 826.7 L859 828.8 L867 824.9 L875 830.2 L883 830.2 L891 834.0 L899 833.1 L907 838.0 L915 851.0 L923 846.8 L931 845.2 L939 848.3 L947 844.8 L955 840.8 L963 846.7 L971 843.6 L979 822.8 L987 838.5 L995 842.6 L1003 844.3 L1011 846.8 L1019 859.2 L1027 850.7 L1035 842.6 L1043 838.9 L1051 840.2 L1059 851.7 L1067 855.2 L1075 849.4 L1083 858.9 L1091 862.0 L1099 846.4 L1107 836.1 L1115 840.6 L1123 841.3 L1131 846.3 L1139 842.1 L1147 841.1 L1155 830.0 L1163 833.7 L1171 830.2 L1179 827.6 L1187 827.1 L1195 814.9 L1203 799.2 L1211 798.8 L1219 796.1 L1227 790.4 L1235 788.2 L1243 805.2 L1251 816.2 L1259 825.3 L1267 838.7 L1275 839.1 L1283 838.7 L1291 826.6 L1299 832.4 L1307 840.6 L1315 848.4 L1323 854.1 L1331 854.7 L1339 839.6 L1347 843.1 L1355 845.1 L1363 843.8 L1371 849.0 L1379 848.5 L1387 847.5 L1395 834.3 L1403 834.3 L1411 832.1 L1419 831.2 L1427 830.2 L1435 832.0" fill="none" stroke="#1e90ff" stroke-width="1" /></g></g><g clip-path="url(#cm)"><rect x="3" y="152" width="1" height="12" fill="#000"/><rect x="1" y="160" width="5" height="1" fill="#000"/><rect x="11" y="140" width="1" height="23" fill="#000"/><rect x="9" y="159" width="5" height="3" fill="#000"/><rect x="19" y="146" width="1" height="19" fill="#000"/><rect x="17" y="148" width="5" height="12" fill="#000"/><rect x="18" y="149" width="3" height="10" fill="#fff"/><rect x="27" y="52" width="1" height="114" fill="#000"/><rect x="25" y="60" width="5" height="90" fill="#000"/><rect x="26" y="61" width="3" height="88" fill="#fff"/><rect x="35" y="55" width="1" height="40" fill="#000"/><rect x="33" y="60" width="5" height="30" fill="#000"/><rect x="43" y="85" width="1" height="13" fill="#000"/><rect x="41" y="89" width="5" height="1" fill="#000"/><rect x="51" y="85" width="1" height="25" fill="#000"/><rect x="49" y="90" width="5" height="14" fill="#000"/><rect x="59" y="95" width="1" height="50" fill="#000"/><rect x="57" y="105" width="5" height="35" fill="#000"/><rect x="67" y="135" width="1" height="19" fill="#000"/><rect x="65" y="139" width="5" height="9" fill="#000"/><rect x="75" y="136" width="1" height="41" fill="#000"/><rect x="73" y="147" width="5" height="22" fill="#000"/><rect x="83" y="153" width="1" height="20" fill="#000"/><rect x="81" y="166" width="5" height="3" fill="#000"/><rect x="82" y="167" width="3" height="1" fill="#fff"/><rect x="91" y="164" width="1" height="9" fill="#000"/><rect x="89" y="167" width="5" height="5" fill="#000"/><rect x="90" y="168" width="3" height="3" fill="#fff"/><rect x="99" y="165" width="1" height="30" fill="#000"/><rect x="97" y="167" width="5" height="20" fill="#000"/><rect x="107" y="179" width="1" height="17" fill="#000"/><rect x="105" y="185" width="5" height="6" fill="#000"/><rect x="115" y="178" width="1" height="3" fill="#000"/><rect x="113" y="179" width="5" height="1" fill="#000"/><rect x="123" y="160" width="1" height="21" fill="#000"/><rect x="121" y="165" width="5" height="15" fill="#000"/><rect x="122" y="166" width="3" height="13" fill="#fff"/><rect x="131" y="141" width="1" height="35" fill="#000"/><rect x="129" y="148" width="5" height="17" fill="#000"/><rect x="130" y="149" width="3" height="15" fill="#fff"/><rect x="139" y="147" width="1" height="8" fill="#000"/><rect x="137" y="149" width="5" height="5" fill="#000"/><rect x="138" y="150" width="3" height="3" fill="#fff"/><rect x="147" y="145" width="1" height="19" fill="#000"/><rect x="145" y="149" width="5" height="12" fill="#000"/><rect x="155" y="125" width="1" height="43" fill="#000"/><rect x="153" y="134" width="5" height="26" fill="#000"/><rect x="154" y="135" width="3" height="24" fill="#fff"/><rect x="163" y="131" width="1" height="5" fill="#000"/><rect x="161" y="132" width="5" height="3" fill="#000"/><rect x="162" y="133" width="3" height="1" fill="#fff"/><rect x="171" y="129" width="1" height="42" fill="#000"/><rect x="169" y="132" width="5" height="30" fill="#000"/><rect x="179" y="160" width="1" height="38" fill="#000"/><rect x="177" y="161" width="5" height="32" fill="#000"/><rect x="187" y="192" width="1" height="9" fill="#000"/><rect x="185" y="193" width="5" height="7" fill="#000"/><rect x="186" y="194" width="3" height="5" fill="#fff"/><rect x="195" y="158" width="1" height="38" fill="#000"/><rect x="193" y="159" width="5" height="34" fill="#000"/><rect x="194" y="160" width="3" height="32" fill="#fff"/><rect x="203" y="148" width="1" height="43" fill="#000"/><rect x="201" y="159" width="5" height="26" fill="#000"/><rect x="211" y="152" width="1" height="44" fill="#000"/><rect x="209" y="157" width="5" height="27" fill="#000"/><rect x="210" y="158" width="3" height="25" fill="#fff"/><rect x="219" y="145" width="1" height="23" fill="#000"/><rect x="217" y="152" width="5" height="5" fill="#000"/><rect x="218" y="153" width="3" height="3" fill="#fff"/><rect x="227" y="144" width="1" height="14" fill="#000"/><rect x="225" y="152" width="5" height="3" fill="#000"/><rect x="235" y="156" width="1" height="5" fill="#000"/><rect x="233" y="157" width="5" height="3" fill="#000"/><rect x="234" y="158" width="3" height="1" fill="#fff"/><rect x="243" y="155" width="1" height="14" fill="#000"/><rect x="241" y="157" width="5" height="1" fill="#000"/><rect x="251" y="145" width="1" height="22" fill="#000"/><rect x="249" y="154" width="5" height="4" fill="#000"/><rect x="250" y="155" width="3" height="2" fill="#fff"/><rect x="259" y="146" width="1" height="17" fill="#000"/><rect x="257" y="148" width="5" height="5" fill="#000"/><rect x="258" y="149" width="3" height="3" fill="#fff"/><rect x="267" y="129" width="1" height="21" fill="#000"/><rect x="265" y="131" width="5" height="18" fill="#000"/><rect x="266" y="132" width="3" height="16" fill="#fff"/><rect x="275" y="122" width="1" height="27" fill="#000"/><rect x="273" y="132" width="5" height="15" fill="#000"/><rect x="283" y="147" width="1" height="6" fill="#000"/><rect x="281" y="148" width="5" height="4" fill="#000"/><rect x="282" y="149" width="3" height="2" fill="#fff"/><rect x="291" y="147" width="1" height="13" fill="#000"/><rect x="289" y="148" width="5" height="3" fill="#000"/><rect x="299" y="134" width="1" height="24" fill="#000"/><rect x="297" y="146" width="5" height="4" fill="#000"/><rect x="298" y="147" width="3" height="2" fill="#fff"/><rect x="307" y="120" width="1" height="28" fill="#000"/><rect x="305" y="128" width="5" height="19" fill="#000"/><rect x="306" y="129" width="3" height="17" fill="#fff"/><rect x="315" y="126" width="1" height="25" fill="#000"/><rect x="313" y="128" width="5" height="12" fill="#000"/><rect x="323" y="125" width="1" height="37" fill="#000"/><rect x="321" y="139" width="5" height="19" fill="#000"/><rect x="331" y="166" width="1" height="10" fill="#000"/><rect x="329" y="168" width="5" height="7" fill="#000"/><rect x="339" y="160" width="1" height="15" fill="#000"/><rect x="337" y="170" width="5" height="4" fill="#000"/><rect x="338" y="171" width="3" height="2" fill="#fff"/><rect x="347" y="166" width="1" height="22" fill="#000"/><rect x="345" y="170" width="5" height="4" fill="#000"/><rect x="355" y="171" width="1" height="12" fill="#000"/><rect x="353" y="173" width="5" height="6" fill="#000"/><rect x="363" y="161" width="1" height="31" fill="#000"/><rect x="361" y="166" width="5" height="12" fill="#000"/><rect x="362" y="167" width="3" height="10" fill="#fff"/><rect x="371" y="148" width="1" height="19" fill="#000"/><rect x="369" y="154" width="5" height="12" fill="#000"/><rect x="370" y="155" width="3" height="10" fill="#fff"/><rect x="379" y="156" width="1" height="5" fill="#000"/><rect x="377" y="157" width="5" height="3" fill="#000"/><rect x="378" y="158" width="3" height="1" fill="#fff"/><rect x="387" y="152" width="1" height="45" fill="#000"/><rect x="385" y="158" width="5" height="37" fill="#000"/><rect x="395" y="158" width="1" height="42" fill="#000"/><rect x="393" y="163" width="5" height="32" fill="#000"/><rect x="394" y="164" width="3" height="30" fill="#fff"/><rect x="403" y="146" width="1" height="26" fill="#000"/><rect x="401" y="162" width="5" height="2" fill="#000"/><rect x="411" y="158" width="1" height="16" fill="#000"/><rect x="409" y="161" width="5" height="12" fill="#000"/><rect x="419" y="168" width="1" height="22" fill="#000"/><rect x="417" y="172" width="5" height="17" fill="#000"/><rect x="427" y="187" width="1" height="6" fill="#000"/><rect x="425" y="189" width="5" height="3" fill="#000"/><rect x="435" y="174" width="1" height="18" fill="#000"/><rect x="433" y="181" width="5" height="10" fill="#000"/><rect x="434" y="182" width="3" height="8" fill="#fff"/><rect x="443" y="166" width="1" height="17" fill="#000"/><rect x="441" y="169" width="5" height="13" fill="#000"/><rect x="442" y="170" width="3" height="11" fill="#fff"/><rect x="451" y="157" width="1" height="15" fill="#000"/><rect x="449" y="168" width="5" height="3" fill="#000"/><rect x="459" y="144" width="1" height="29" fill="#000"/><rect x="457" y="150" width="5" height="19" fill="#000"/><rect x="458" y="151" width="3" height="17" fill="#fff"/><rect x="467" y="146" width="1" height="14" fill="#000"/><rect x="465" y="150" width="5" height="4" fill="#000"/><rect x="475" y="147" width="1" height="5" fill="#000"/><rect x="473" y="148" width="5" height="3" fill="#000"/><rect x="474" y="149" width="3" height="1" fill="#fff"/><rect x="483" y="147" width="1" height="13" fill="#000"/><rect x="481" y="149" width="5" height="10" fill="#000"/><rect x="491" y="149" width="1" height="21" fill="#000"/><rect x="489" y="157" width="5" height="3" fill="#000"/><rect x="499" y="129" width="1" height="30" fill="#000"/><rect x="497" y="139" width="5" height="19" fill="#000"/><rect x="498" y="140" width="3" height="17" fill="#fff"/><rect x="507" y="120" width="1" height="23" fill="#000"/><rect x="505" y="128" width="5" height="11" fill="#000"/><rect x="506" y="129" width="3" height="9" fill="#fff"/><rect x="515" y="112" width="1" height="28" fill="#000"/><rect x="513" y="116" width="5" height="13" fill="#000"/><rect x="514" y="117" width="3" height="11" fill="#fff"/><rect x="523" y="122" width="1" height="7" fill="#000"/><rect x="521" y="123" width="5" height="5" fill="#000"/><rect x="522" y="124" width="3" height="3" fill="#fff"/><rect x="531" y="120" width="1" height="43" fill="#000"/><rect x="529" y="123" width="5" height="27" fill="#000"/><rect x="539" y="141" width="1" height="15" fill="#000"/><rect x="537" y="146" width="5" height="4" fill="#000"/><rect x="538" y="147" width="3" height="2" fill="#fff"/><rect x="547" y="139" width="1" height="33" fill="#000"/><rect x="545" y="146" width="5" height="21" fill="#000"/><rect x="555" y="164" width="1" height="31" fill="#000"/><rect x="553" y="166" width="5" height="27" fill="#000"/><rect x="563" y="191" width="1" height="81" fill="#000"/><rect x="561" y="191" width="5" height="72" fill="#000"/><rect x="571" y="263" width="1" height="13" fill="#000"/><rect x="569" y="264" width="5" height="11" fill="#000"/><rect x="570" y="265" width="3" height="9" fill="#fff"/><rect x="579" y="236" width="1" height="44" fill="#000"/><rect x="577" y="250" width="5" height="13" fill="#000"/><rect x="578" y="251" width="3" height="11" fill="#fff"/><rect x="587" y="250" width="1" height="34" fill="#000"/><rect x="585" y="251" width="5" height="27" fill="#000"/><rect x="595" y="247" width="1" height="32" fill="#000"/><rect x="593" y="248" width="5" height="30" fill="#000"/><rect x="594" y="249" width="3" height="28" fill="#fff"/><rect x="603" y="249" width="1" height="27" fill="#000"/><rect x="601" y="249" width="5" height="22" fill="#000"/><rect x="611" y="267" width="1" height="29" fill="#000"/><rect x="609" y="270" width="5" height="15" fill="#000"/><rect x="619" y="297" width="1" height="14" fill="#000"/><rect x="617" y="302" width="5" height="8" fill="#000"/><rect x="618" y="303" width="3" height="6" fill="#fff"/><rect x="627" y="297" width="1" height="82" fill="#000"/><rect x="625" y="301" width="5" height="32" fill="#000"/><rect x="635" y="279" width="1" height="67" fill="#000"/><rect x="633" y="314" width="5" height="17" fill="#000"/><rect x="634" y="315" width="3" height="15" fill="#fff"/><rect x="643" y="293" width="1" height="60" fill="#000"/><rect x="641" y="315" width="5" height="33" fill="#000"/><rect x="651" y="342" width="1" height="63" fill="#000"/><rect x="649" y="346" width="5" height="54" fill="#000"/><rect x="659" y="341" width="1" height="66" fill="#000"/><rect x="657" y="367" width="5" height="33" fill="#000"/><rect x="658" y="368" width="3" height="31" fill="#fff"/><rect x="667" y="378" width="1" height="28" fill="#000"/><rect x="665" y="390" width="5" height="1" fill="#000"/><rect x="675" y="378" width="1" height="79" fill="#000"/><rect x="673" y="390" width="5" height="37" fill="#000"/><rect x="683" y="407" width="1" height="58" fill="#000"/><rect x="681" y="427" width="5" height="5" fill="#000"/><rect x="691" y="426" width="1" height="134" fill="#000"/><rect x="689" y="431" width="5" height="94" fill="#000"/><rect x="699" y="443" width="1" height="104" fill="#000"/><rect x="697" y="480" width="5" height="43" fill="#000"/><rect x="698" y="481" width="3" height="41" fill="#fff"/><rect x="707" y="390" width="1" height="99" fill="#000"/><rect x="705" y="463" width="5" height="16" fill="#000"/><rect x="706" y="464" width="3" height="14" fill="#fff"/><rect x="715" y="453" width="1" height="26" fill="#000"/><rect x="713" y="471" width="5" height="1" fill="#000"/><rect x="723" y="452" width="1" height="39" fill="#000"/><rect x="721" y="466" width="5" height="6" fill="#000"/><rect x="722" y="467" width="3" height="4" fill="#fff"/><rect x="731" y="403" width="1" height="73" fill="#000"/><rect x="729" y="412" width="5" height="55" fill="#000"/><rect x="730" y="413" width="3" height="53" fill="#fff"/><rect x="739" y="360" width="1" height="76" fill="#000"/><rect x="737" y="405" width="5" height="7" fill="#000"/><rect x="738" y="406" width="3" height="5" fill="#fff"/><rect x="747" y="351" width="1" height="70" fill="#000"/><rect x="745" y="368" width="5" height="37" fill="#000"/><rect x="746" y="369" width="3" height="35" fill="#fff"/><rect x="755" y="336" width="1" height="53" fill="#000"/><rect x="753" y="337" width="5" height="31" fill="#000"/><rect x="754" y="338" width="3" height="29" fill="#fff"/><rect x="763" y="349" width="1" height="10" fill="#000"/><rect x="761" y="352" width="5" height="6" fill="#000"/><rect x="762" y="353" width="3" height="4" fill="#fff"/><rect x="771" y="339" width="1" height="35" fill="#000"/><rect x="769" y="352" width="5" height="4" fill="#000"/><rect x="779" y="334" width="1" height="34" fill="#000"/><rect x="777" y="354" width="5" height="7" fill="#000"/><rect x="787" y="356" width="1" height="24" fill="#000"/><rect x="785" y="361" width="5" height="13" fill="#000"/><rect x="795" y="346" width="1" height="34" fill="#000"/><rect x="793" y="350" width="5" height="23" fill="#000"/><rect x="794" y="351" width="3" height="21" fill="#fff"/><rect x="803" y="349" width="1" height="29" fill="#000"/><rect x="801" y="351" width="5" height="22" fill="#000"/><rect x="811" y="373" width="1" height="4" fill="#000"/><rect x="809" y="373" width="5" height="3" fill="#000"/><rect x="810" y="374" width="3" height="1" fill="#fff"/><rect x="819" y="336" width="1" height="39" fill="#000"/><rect x="817" y="359" width="5" height="15" fill="#000"/><rect x="818" y="360" width="3" height="13" fill="#fff"/><rect x="827" y="326" width="1" height="41" fill="#000"/><rect x="825" y="346" width="5" height="13" fill="#000"/><rect x="826" y="347" width="3" height="11" fill="#fff"/><rect x="835" y="325" width="1" height="30" fill="#000"/><rect x="833" y="326" width="5" height="20" fill="#000"/><rect x="834" y="327" width="3" height="18" fill="#fff"/><rect x="843" y="310" width="1" height="25" fill="#000"/><rect x="841" y="326" width="5" height="1" fill="#000"/><rect x="851" y="322" width="1" height="7" fill="#000"/><rect x="849" y="323" width="5" height="4" fill="#000"/><rect x="859" y="323" width="1" height="15" fill="#000"/><rect x="857" y="326" width="5" height="6" fill="#000"/><rect x="867" y="315" width="1" height="21" fill="#000"/><rect x="865" y="321" width="5" height="11" fill="#000"/><rect x="866" y="322" width="3" height="9" fill="#fff"/><rect x="875" y="320" width="1" height="36" fill="#000"/><rect x="873" y="321" width="5" height="12" fill="#000"/><rect x="883" y="327" width="1" height="27" fill="#000"/><rect x="881" y="331" width="5" height="3" fill="#000"/><rect x="891" y="329" width="1" height="22" fill="#000"/><rect x="889" y="330" width="5" height="11" fill="#000"/><rect x="899" y="337" width="1" height="4" fill="#000"/><rect x="897" y="337" width="5" height="3" fill="#000"/><rect x="907" y="332" width="1" height="21" fill="#000"/><rect x="905" y="337" width="5" height="12" fill="#000"/><rect x="915" y="347" width="1" height="46" fill="#000"/><rect x="913" y="348" width="5" height="32" fill="#000"/><rect x="923" y="362" width="1" height="28" fill="#000"/><rect x="921" y="372" width="5" height="7" fill="#000"/><rect x="922" y="373" width="3" height="5" fill="#fff"/><rect x="931" y="354" width="1" height="29" fill="#000"/><rect x="929" y="369" width="5" height="4" fill="#000"/><rect x="930" y="370" width="3" height="2" fill="#fff"/><rect x="939" y="366" width="1" height="17" fill="#000"/><rect x="937" y="369" width="5" height="7" fill="#000"/><rect x="947" y="369" width="1" height="5" fill="#000"/><rect x="945" y="370" width="5" height="3" fill="#000"/><rect x="946" y="371" width="3" height="1" fill="#fff"/><rect x="955" y="357" width="1" height="15" fill="#000"/><rect x="953" y="363" width="5" height="8" fill="#000"/><rect x="954" y="364" width="3" height="6" fill="#fff"/><rect x="963" y="357" width="1" height="19" fill="#000"/><rect x="961" y="363" width="5" height="12" fill="#000"/><rect x="971" y="369" width="1" height="23" fill="#000"/><rect x="969" y="370" width="5" height="4" fill="#000"/><rect x="970" y="371" width="3" height="2" fill="#fff"/><rect x="979" y="316" width="1" height="61" fill="#000"/><rect x="977" y="328" width="5" height="43" fill="#000"/><rect x="978" y="329" width="3" height="41" fill="#fff"/><rect x="987" y="324" width="1" height="38" fill="#000"/><rect x="985" y="327" width="5" height="34" fill="#000"/><rect x="995" y="365" width="1" height="8" fill="#000"/><rect x="993" y="367" width="5" height="4" fill="#000"/><rect x="1003" y="364" width="1" height="16" fill="#000"/><rect x="1001" y="370" width="5" height="5" fill="#000"/><rect x="1011" y="365" width="1" height="18" fill="#000"/><rect x="1009" y="374" width="5" height="7" fill="#000"/><rect x="1019" y="380" width="1" height="40" fill="#000"/><rect x="1017" y="380" width="5" height="35" fill="#000"/><rect x="1027" y="390" width="1" height="27" fill="#000"/><rect x="1025" y="399" width="5" height="16" fill="#000"/><rect x="1026" y="400" width="3" height="14" fill="#fff"/><rect x="1035" y="376" width="1" height="25" fill="#000"/><rect x="1033" y="382" width="5" height="18" fill="#000"/><rect x="1034" y="383" width="3" height="16" fill="#fff"/><rect x="1043" y="374" width="1" height="7" fill="#000"/><rect x="1041" y="374" width="5" height="4" fill="#000"/><rect x="1042" y="375" width="3" height="2" fill="#fff"/><rect x="1051" y="365" width="1" height="29" fill="#000"/><rect x="1049" y="374" width="5" height="3" fill="#000"/><rect x="1059" y="372" width="1" height="35" fill="#000"/><rect x="1057" y="376" width="5" height="30" fill="#000"/><rect x="1067" y="392" width="1" height="28" fill="#000"/><rect x="1065" y="405" width="5" height="11" fill="#000"/><rect x="1075" y="404" width="1" height="27" fill="#000"/><rect x="1073" y="405" width="5" height="11" fill="#000"/><rect x="1074" y="406" width="3" height="9" fill="#fff"/><rect x="1083" y="403" width="1" height="31" fill="#000"/><rect x="1081" y="405" width="5" height="28" fill="#000"/><rect x="1091" y="440" width="1" height="5" fill="#000"/><rect x="1089" y="440" width="5" height="3" fill="#000"/><rect x="1099" y="406" width="1" height="38" fill="#000"/><rect x="1097" y="412" width="5" height="30" fill="#000"/><rect x="1098" y="413" width="3" height="28" fill="#fff"/><rect x="1107" y="379" width="1" height="38" fill="#000"/><rect x="1105" y="387" width="5" height="25" fill="#000"/><rect x="1106" y="388" width="3" height="23" fill="#fff"/><rect x="1115" y="381" width="1" height="22" fill="#000"/><rect x="1113" y="387" width="5" height="12" fill="#000"/><rect x="1123" y="391" width="1" height="17" fill="#000"/><rect x="1121" y="397" width="5" height="4" fill="#000"/><rect x="1131" y="395" width="1" height="25" fill="#000"/><rect x="1129" y="399" width="5" height="15" fill="#000"/><rect x="1139" y="405" width="1" height="4" fill="#000"/><rect x="1137" y="405" width="5" height="3" fill="#000"/><rect x="1138" y="406" width="3" height="1" fill="#fff"/><rect x="1147" y="403" width="1" height="10" fill="#000"/><rect x="1145" y="403" width="5" height="3" fill="#000"/><rect x="1146" y="404" width="3" height="1" fill="#fff"/><rect x="1155" y="368" width="1" height="37" fill="#000"/><rect x="1153" y="378" width="5" height="25" fill="#000"/><rect x="1154" y="379" width="3" height="23" fill="#fff"/><rect x="1163" y="369" width="1" height="30" fill="#000"/><rect x="1161" y="378" width="5" height="8" fill="#000"/><rect x="1171" y="371" width="1" height="24" fill="#000"/><rect x="1169" y="378" width="5" height="8" fill="#000"/><rect x="1170" y="379" width="3" height="6" fill="#fff"/><rect x="1179" y="359" width="1" height="37" fill="#000"/><rect x="1177" y="372" width="5" height="5" fill="#000"/><rect x="1178" y="373" width="3" height="3" fill="#fff"/><rect x="1187" y="368" width="1" height="5" fill="#000"/><rect x="1185" y="369" width="5" height="3" fill="#000"/><rect x="1195" y="336" width="1" height="35" fill="#000"/><rect x="1193" y="341" width="5" height="29" fill="#000"/><rect x="1194" y="342" width="3" height="27" fill="#fff"/><rect x="1203" y="284" width="1" height="59" fill="#000"/><rect x="1201" y="285" width="5" height="57" fill="#000"/><rect x="1202" y="286" width="3" height="55" fill="#fff"/><rect x="1211" y="275" width="1" height="25" fill="#000"/><rect x="1209" y="283" width="5" height="3" fill="#000"/><rect x="1210" y="284" width="3" height="1" fill="#fff"/><rect x="1219" y="266" width="1" height="40" fill="#000"/><rect x="1217" y="271" width="5" height="12" fill="#000"/><rect x="1218" y="272" width="3" height="10" fill="#fff"/><rect x="1227" y="224" width="1" height="54" fill="#000"/><rect x="1225" y="243" width="5" height="28" fill="#000"/><rect x="1226" y="244" width="3" height="26" fill="#fff"/><rect x="1235" y="225" width="1" height="14" fill="#000"/><rect x="1233" y="231" width="5" height="7" fill="#000"/><rect x="1234" y="232" width="3" height="5" fill="#fff"/><rect x="1243" y="231" width="1" height="44" fill="#000"/><rect x="1241" y="231" width="5" height="30" fill="#000"/><rect x="1251" y="258" width="1" height="42" fill="#000"/><rect x="1249" y="261" width="5" height="23" fill="#000"/><rect x="1259" y="274" width="1" height="32" fill="#000"/><rect x="1257" y="282" width="5" height="23" fill="#000"/><rect x="1267" y="295" width="1" height="51" fill="#000"/><rect x="1265" y="304" width="5" height="38" fill="#000"/><rect x="1275" y="304" width="1" height="46" fill="#000"/><rect x="1273" y="341" width="5" height="3" fill="#000"/><rect x="1283" y="337" width="1" height="8" fill="#000"/><rect x="1281" y="339" width="5" height="3" fill="#000"/><rect x="1291" y="308" width="1" height="50" fill="#000"/><rect x="1289" y="308" width="5" height="34" fill="#000"/><rect x="1290" y="309" width="3" height="32" fill="#fff"/><rect x="1299" y="297" width="1" height="36" fill="#000"/><rect x="1297" y="308" width="5" height="15" fill="#000"/><rect x="1307" y="323" width="1" height="24" fill="#000"/><rect x="1305" y="323" width="5" height="23" fill="#000"/><rect x="1315" y="340" width="1" height="43" fill="#000"/><rect x="1313" y="345" width="5" height="26" fill="#000"/><rect x="1323" y="370" width="1" height="22" fill="#000"/><rect x="1321" y="370" width="5" height="21" fill="#000"/><rect x="1331" y="391" width="1" height="5" fill="#000"/><rect x="1329" y="392" width="5" height="2" fill="#000"/><rect x="1339" y="354" width="1" height="42" fill="#000"/><rect x="1337" y="355" width="5" height="37" fill="#000"/><rect x="1338" y="356" width="3" height="35" fill="#fff"/><rect x="1347" y="348" width="1" height="30" fill="#000"/><rect x="1345" y="360" width="5" height="4" fill="#000"/><rect x="1355" y="356" width="1" height="21" fill="#000"/><rect x="1353" y="364" width="5" height="8" fill="#000"/><rect x="1363" y="356" width="1" height="18" fill="#000"/><rect x="1361" y="369" width="5" height="4" fill="#000"/><rect x="1362" y="370" width="3" height="2" fill="#fff"/><rect x="1371" y="364" width="1" height="26" fill="#000"/><rect x="1369" y="370" width="5" height="14" fill="#000"/><rect x="1379" y="381" width="1" height="7" fill="#000"/><rect x="1377" y="383" width="5" height="3" fill="#000"/><rect x="1378" y="384" width="3" height="1" fill="#fff"/><rect x="1387" y="376" width="1" height="12" fill="#000"/><rect x="1385" y="381" width="5" height="3" fill="#000"/><rect x="1386" y="382" width="3" height="1" fill="#fff"/><rect x="1395" y="350" width="1" height="41" fill="#000"/><rect x="1393" y="352" width="5" height="29" fill="#000"/><rect x="1394" y="353" width="3" height="27" fill="#fff"/><rect x="1403" y="343" width="1" height="21" fill="#000"/><rect x="1401" y="352" width="5" height="1" fill="#000"/><rect x="1411" y="332" width="1" height="21" fill="#000"/><rect x="1409" y="347" width="5" height="4" fill="#000"/><rect x="1410" y="348" width="3" height="2" fill="#fff"/><rect x="1419" y="343" width="1" height="12" fill="#000"/><rect x="1417" y="345" width="5" height="3" fill="#000"/><rect x="1418" y="346" width="3" height="1" fill="#fff"/><rect x="1427" y="342" width="1" height="4" fill="#000"/><rect x="1425" y="343" width="5" height="3" fill="#000"/><rect x="1426" y="344" width="3" height="1" fill="#fff"/><rect x="1435" y="333" width="1" height="15" fill="#000"/><rect x="1433" y="343" width="5" height="3" fill="#000"/></g><rect x="1220" y="368" width="10" height="1" fill="#ff0000"/><rect x="1227.5" y="366.5" width="3" height="3" fill="#fff" stroke="#ff0000" stroke-width="1"/><rect x="1230.5" y="356.5" width="73" height="24" fill="#fff" stroke="#ff0000" stroke-width="1"/><text x="1233" y="377" fill="#ff0000" font-size="22" textLength="69" lengthAdjust="spacingAndGlyphs" shape-rendering="auto">133.031</text><g clip-path="url(#cm)" shape-rendering="auto"><path d="M1233.0 225.0 L1276.6 347.8" stroke="#ff0000" stroke-width="3.1" fill="none"/><path d="M1281.0 360.0 L1271.9 349.4 L1277.0 348.7 L1281.4 346.1 Z" fill="#ff0000"/><path d="M1281.0 360.0 L1293.8 322.3" stroke="#ff0000" stroke-width="3.1" fill="none"/><path d="M1298.0 310.0 L1298.5 323.9 L1294.1 321.4 L1289.1 320.7 Z" fill="#ff0000"/><path d="M1298.0 310.0 L1329.8 382.1" stroke="#ff0000" stroke-width="3.1" fill="none"/><path d="M1335.0 394.0 L1325.2 384.1 L1330.2 383.0 L1334.3 380.1 Z" fill="#ff0000"/><path d="M1335.0 394.0 L1344.8 365.3" stroke="#ff0000" stroke-width="3.1" fill="none"/><path d="M1349.0 353.0 L1349.5 366.9 L1345.1 364.4 L1340.1 363.7 Z" fill="#ff0000"/><path d="M1349.0 353.0 L1384.6 387.0" stroke="#ff0000" stroke-width="3.1" fill="none"/><path d="M1394.0 396.0 L1381.1 390.6 L1385.3 387.7 L1388.1 383.4 Z" fill="#ff0000"/><path d="M1394.0 396.0 L1450.5 343.8" stroke="#ff0000" stroke-width="3.1" fill="none"/><path d="M1460.0 335.0 L1453.8 347.5 L1451.2 343.1 L1447.1 340.2 Z" fill="#ff0000"/></g><rect x="1356" y="364" width="103" height="7" fill="#00ff00"/><g fill="none" stroke="#00ff00" stroke-width="1.45" stroke-linecap="square" shape-rendering="auto"><path d="M1454.8 397.5 L1446.2 403.3"/><path d="M1452.5 400.3 L1462.8 400.3 L1450.5 407"/><path d="M1452.8 400.8 L1456 405.3"/><path d="M1445.8 407.2 L1451 407.2"/><path d="M1453.5 405.5 L1446.5 411.5"/><path d="M1454.4 407.8 L1463.8 407.8 Q1457 414.5 1446 416"/><path d="M1453 410 L1454.6 413"/><path d="M1476.5 397.2 L1478.3 399.8"/><path d="M1470.5 400.3 L1469.3 404"/><path d="M1470.5 400.5 L1487.5 400.5 L1486 403"/><path d="M1475.2 402.2 L1469.6 407.4"/><path d="M1479 401.8 L1485.8 405.5"/><path d="M1471.8 407.8 L1485.2 407.8"/><path d="M1478.5 407.8 L1478.5 414.6"/><path d="M1468.5 414.6 L1488.2 414.6"/><path d="M1490.9 400.2 L1498 400.2"/><path d="M1495.5 397.7 L1491.7 406 L1497.6 405.6"/><path d="M1496.3 402.3 L1496.3 415.6"/><path d="M1490.9 411.4 L1498 409.4"/><path d="M1499.6 400.6 L1509.6 400.6"/><path d="M1498.8 405.2 L1510.9 405.2"/><path d="M1504.6 397.3 L1501.3 408.1 L1508.8 408.1 L1505.4 411.4"/><path d="M1501.3 411.4 L1507.5 415.2"/><path d="M1514.2 402.3 L1521.2 402.3"/><path d="M1518.7 397.3 L1518.7 415.2 L1515.4 414.4"/><path d="M1514.6 408.1 L1522 406"/><path d="M1532.5 397.7 L1523.3 400.2 L1523.3 406.5 Q1523 412 1519.6 415.4"/><path d="M1523.3 404.2 L1533.7 404.2"/><path d="M1529.1 404.2 L1529.1 415.6"/><path d="M1546.2 397.3 L1546.2 403.6"/><path d="M1546.2 400.2 L1555.3 400.2"/><path d="M1541.6 403.6 L1553.6 403.6 L1553.6 409 L1541.6 409 Z"/><path d="M1540.3 411.9 L1538.3 415.2"/><path d="M1544.1 412.3 L1544.9 414.8"/><path d="M1548.7 412.3 L1549.9 414.8"/><path d="M1552.8 411.4 L1555.3 415.2"/></g><rect x="1687" y="43" width="2" height="1" fill="#000"/><text transform="translate(1693,47) scale(0.9,1)" fill="#000" stroke="#000" stroke-width="0.12" font-size="10" >148.190</text><rect x="1687" y="76" width="2" height="1" fill="#000"/><text transform="translate(1693,80) scale(0.9,1)" fill="#000" stroke="#000" stroke-width="0.12" font-size="10" >146.660</text><rect x="1687" y="109" width="2" height="1" fill="#000"/><text transform="translate(1693,113) scale(0.9,1)" fill="#000" stroke="#000" stroke-width="0.12" font-size="10" >145.085</text><rect x="1687" y="142" width="2" height="1" fill="#000"/><text transform="translate(1693,146) scale(0.9,1)" fill="#000" stroke="#000" stroke-width="0.12" font-size="10" >143.555</text><rect x="1687" y="175" width="2" height="1" fill="#000"/><text transform="translate(1693,179) scale(0.9,1)" fill="#000" stroke="#000" stroke-width="0.12" font-size="10" >142.025</text><rect x="1687" y="208" width="2" height="1" fill="#000"/><text transform="translate(1693,212) scale(0.9,1)" fill="#000" stroke="#000" stroke-width="0.12" font-size="10" >140.495</text><rect x="1687" y="241" width="2" height="1" fill="#000"/><text transform="translate(1693,245) scale(0.9,1)" fill="#000" stroke="#000" stroke-width="0.12" font-size="10" >138.965</text><rect x="1687" y="274" width="2" height="1" fill="#000"/><text transform="translate(1693,278) scale(0.9,1)" fill="#000" stroke="#000" stroke-width="0.12" font-size="10" >137.390</text><rect x="1687" y="307" width="2" height="1" fill="#000"/><text transform="translate(1693,311) scale(0.9,1)" fill="#000" stroke="#000" stroke-width="0.12" font-size="10" >135.860</text><rect x="1687" y="340" width="2" height="1" fill="#000"/><text transform="translate(1693,344) scale(0.9,1)" fill="#000" stroke="#000" stroke-width="0.12" font-size="10" >134.330</text><rect x="1687" y="373" width="2" height="1" fill="#000"/><text transform="translate(1693,377) scale(0.9,1)" fill="#000" stroke="#000" stroke-width="0.12" font-size="10" >132.800</text><rect x="1687" y="406" width="2" height="1" fill="#000"/><text transform="translate(1693,410) scale(0.9,1)" fill="#000" stroke="#000" stroke-width="0.12" font-size="10" >131.270</text><rect x="1687" y="439" width="2" height="1" fill="#000"/><text transform="translate(1693,443) scale(0.9,1)" fill="#000" stroke="#000" stroke-width="0.12" font-size="10" >129.695</text><rect x="1687" y="472" width="2" height="1" fill="#000"/><text transform="translate(1693,476) scale(0.9,1)" fill="#000" stroke="#000" stroke-width="0.12" font-size="10" >128.165</text><rect x="1687" y="505" width="2" height="1" fill="#000"/><text transform="translate(1693,509) scale(0.9,1)" fill="#000" stroke="#000" stroke-width="0.12" font-size="10" >126.635</text><rect x="1687" y="538" width="2" height="1" fill="#000"/><text transform="translate(1693,542) scale(0.9,1)" fill="#000" stroke="#000" stroke-width="0.12" font-size="10" >125.105</text><rect x="1687" y="571" width="2" height="1" fill="#000"/><text transform="translate(1693,575) scale(0.9,1)" fill="#000" stroke="#000" stroke-width="0.12" font-size="10" >123.575</text><rect x="1688" y="297" width="41" height="11" fill="#ff0000"/><rect x="1687" y="302" width="1" height="1" fill="#ff0000"/><text transform="translate(1693,306) scale(0.9,1)" fill="#fff" stroke="#fff" stroke-width="0.12" font-size="10" >136.057</text><rect x="1688" y="321" width="41" height="11" fill="#ff0000"/><rect x="1687" y="326" width="1" height="1" fill="#ff0000"/><text transform="translate(1693,330) scale(0.9,1)" fill="#fff" stroke="#fff" stroke-width="0.12" font-size="10" >134.940</text><rect x="1688" y="340" width="41" height="11" fill="#000000"/><rect x="1687" y="345" width="1" height="1" fill="#000000"/><text transform="translate(1693,349) scale(0.9,1)" fill="#fff" stroke="#fff" stroke-width="0.12" font-size="10" >134.101</text><rect x="1688" y="362" width="41" height="11" fill="#32cd32"/><rect x="1687" y="367" width="1" height="1" fill="#32cd32"/><text transform="translate(1693,371) scale(0.9,1)" fill="#fff" stroke="#fff" stroke-width="0.12" font-size="10" >133.031</text><rect x="1688" y="390" width="41" height="11" fill="#0000ff"/><rect x="1687" y="395" width="1" height="1" fill="#0000ff"/><text transform="translate(1693,399) scale(0.9,1)" fill="#fff" stroke="#fff" stroke-width="0.12" font-size="10" >131.727</text><rect x="1688" y="419" width="41" height="11" fill="#0000ff"/><rect x="1687" y="424" width="1" height="1" fill="#0000ff"/><text transform="translate(1693,428) scale(0.9,1)" fill="#fff" stroke="#fff" stroke-width="0.12" font-size="10" >130.377</text><rect x="1687" y="578" width="1" height="1" fill="#000"/><text transform="translate(1690,587) scale(0.9,1)" fill="#000" stroke="#000" stroke-width="0.12" font-size="10" >1.894</text><rect x="1687" y="634" width="2" height="1" fill="#000"/><text transform="translate(1690,638) scale(0.9,1)" fill="#000" stroke="#000" stroke-width="0.12" font-size="10" >0.00</text><rect x="1687" y="745" width="2" height="1" fill="#000"/><text transform="translate(1690,743) scale(0.9,1)" fill="#000" stroke="#000" stroke-width="0.12" font-size="10" >-3.7183</text><rect x="1687" y="750" width="2" height="1" fill="#000"/><text transform="translate(1690,759) scale(0.9,1)" fill="#000" stroke="#000" stroke-width="0.12" font-size="10" >100</text><rect x="1687" y="784" width="2" height="1" fill="#000"/><text transform="translate(1689,788) scale(0.9,1)" fill="#000" stroke="#000" stroke-width="0.12" font-size="10" >80</text><rect x="1687" y="835" width="2" height="1" fill="#000"/><text transform="translate(1689,839) scale(0.9,1)" fill="#000" stroke="#000" stroke-width="0.12" font-size="10" >50</text><rect x="1687" y="896" width="2" height="1" fill="#000"/><text transform="translate(1689,900) scale(0.9,1)" fill="#000" stroke="#000" stroke-width="0.12" font-size="10" >15</text><rect x="1687" y="921" width="2" height="1" fill="#000"/><text transform="translate(1689,919) scale(0.9,1)" fill="#000" stroke="#000" stroke-width="0.12" font-size="10" >0</text><text transform="translate(0,588) scale(0.9,1)" fill="#000" stroke="#000" stroke-width="0.12" font-size="10" >MACD(12,26,9) -0.0541 -0.2878</text><text transform="translate(0,760) scale(0.9,1)" fill="#000" stroke="#000" stroke-width="0.12" font-size="10" >RSI(14) 52.5303</text><rect x="59" y="923" width="1" height="3" fill="#000"/><text transform="translate(59,935) scale(0.9,1)" fill="#000" stroke="#000" stroke-width="0.12" font-size="10" >17 Dec 2019</text><rect x="123" y="923" width="1" height="3" fill="#000"/><text transform="translate(123,935) scale(0.9,1)" fill="#000" stroke="#000" stroke-width="0.12" font-size="10" >26 Dec 2019</text><rect x="187" y="923" width="1" height="3" fill="#000"/><text transform="translate(187,935) scale(0.9,1)" fill="#000" stroke="#000" stroke-width="0.12" font-size="10" >5 Jan 2020</text><rect x="251" y="923" width="1" height="3" fill="#000"/><text transform="translate(251,935) scale(0.9,1)" fill="#000" stroke="#000" stroke-width="0.12" font-size="10" >14 Jan 2020</text><rect x="315" y="923" width="1" height="3" fill="#000"/><text transform="translate(315,935) scale(0.9,1)" fill="#000" stroke="#000" stroke-width="0.12" font-size="10" >23 Jan 2020</text><rect x="379" y="923" width="1" height="3" fill="#000"/><text transform="translate(379,935) scale(0.9,1)" fill="#000" stroke="#000" stroke-width="0.12" font-size="10" >2 Feb 2020</text><rect x="443" y="923" width="1" height="3" fill="#000"/><text transform="translate(443,935) scale(0.9,1)" fill="#000" stroke="#000" stroke-width="0.12" font-size="10" >11 Feb 2020</text><rect x="507" y="923" width="1" height="3" fill="#000"/><text transform="translate(507,935) scale(0.9,1)" fill="#000" stroke="#000" stroke-width="0.12" font-size="10" >20 Feb 2020</text><rect x="571" y="923" width="1" height="3" fill="#000"/><text transform="translate(571,935) scale(0.9,1)" fill="#000" stroke="#000" stroke-width="0.12" font-size="10" >1 Mar 2020</text><rect x="635" y="923" width="1" height="3" fill="#000"/><text transform="translate(635,935) scale(0.9,1)" fill="#000" stroke="#000" stroke-width="0.12" font-size="10" >10 Mar 2020</text><rect x="699" y="923" width="1" height="3" fill="#000"/><text transform="translate(699,935) scale(0.9,1)" fill="#000" stroke="#000" stroke-width="0.12" font-size="10" >19 Mar 2020</text><rect x="763" y="923" width="1" height="3" fill="#000"/><text transform="translate(763,935) scale(0.9,1)" fill="#000" stroke="#000" stroke-width="0.12" font-size="10" >29 Mar 2020</text><rect x="827" y="923" width="1" height="3" fill="#000"/><text transform="translate(827,935) scale(0.9,1)" fill="#000" stroke="#000" stroke-width="0.12" font-size="10" >7 Apr 2020</text><rect x="891" y="923" width="1" height="3" fill="#000"/><text transform="translate(891,935) scale(0.9,1)" fill="#000" stroke="#000" stroke-width="0.12" font-size="10" >17 Apr 2020</text><rect x="955" y="923" width="1" height="3" fill="#000"/><text transform="translate(955,935) scale(0.9,1)" fill="#000" stroke="#000" stroke-width="0.12" font-size="10" >27 Apr 2020</text><rect x="1019" y="923" width="1" height="3" fill="#000"/><text transform="translate(1019,935) scale(0.9,1)" fill="#000" stroke="#000" stroke-width="0.12" font-size="10" >6 May 2020</text><rect x="1083" y="923" width="1" height="3" fill="#000"/><text transform="translate(1083,935) scale(0.9,1)" fill="#000" stroke="#000" stroke-width="0.12" font-size="10" >15 May 2020</text><rect x="1147" y="923" width="1" height="3" fill="#000"/><text transform="translate(1147,935) scale(0.9,1)" fill="#000" stroke="#000" stroke-width="0.12" font-size="10" >25 May 2020</text><rect x="1211" y="923" width="1" height="3" fill="#000"/><text transform="translate(1211,935) scale(0.9,1)" fill="#000" stroke="#000" stroke-width="0.12" font-size="10" >3 Jun 2020</text><rect x="1275" y="923" width="1" height="3" fill="#000"/><text transform="translate(1275,935) scale(0.9,1)" fill="#000" stroke="#000" stroke-width="0.12" font-size="10" >12 Jun 2020</text><rect x="1339" y="923" width="1" height="3" fill="#000"/><text transform="translate(1339,935) scale(0.9,1)" fill="#000" stroke="#000" stroke-width="0.12" font-size="10" >22 Jun 2020</text><rect x="1403" y="923" width="1" height="3" fill="#000"/><text transform="translate(1403,935) scale(0.9,1)" fill="#000" stroke="#000" stroke-width="0.12" font-size="10" >1 Jul 2020</text><text transform="translate(-5,935) scale(0.9,1)" fill="#000" stroke="#000" stroke-width="0.12" font-size="10" >8 Dec 2019</text><path d="M0 32 L3 28 L6 32 Z" fill="#000"/><text x="10" y="33" fill="#000" font-size="10" textLength="62" lengthAdjust="spacingAndGlyphs">GBPJPY-,Daily</text><text x="79" y="33" fill="#000" font-size="10" textLength="140" lengthAdjust="spacingAndGlyphs">134.204 134.660 134.009 134.101</text><path d="M1442 22 L1453 22 L1447.5 27 Z" fill="#c0c0c0"/></svg>
<div style="position:absolute;left:0;top:39px;width:219px;height:68px;background:#fff"></div>
<div style="position:absolute;left:0;top:41px;width:217px;height:64px;font-family:"Liberation Sans",sans-serif;">
<div style="position:absolute;left:0;top:0;width:50px;height:24px;background:linear-gradient(#5a5af6,#4444e8);border-top:1px solid #2a2ab0;box-sizing:border-box"></div>
<div style="position:absolute;left:10px;top:6px;color:#fff;font-size:12px;line-height:12px;transform:scaleX(0.9);transform-origin:0 0">SELL</div>
<div style="position:absolute;left:165px;top:0;width:52px;height:24px;background:linear-gradient(#5a5af6,#4444e8);border-top:1px solid #2a2ab0;box-sizing:border-box"></div>
<div style="position:absolute;left:178px;top:6px;color:#fff;font-size:12px;line-height:12px">BUY</div>
<div style="position:absolute;left:52px;top:1px;width:111px;height:21px;background:#a8a8a8"></div>
<div style="position:absolute;left:53px;top:2px;width:20px;height:19px;background:linear-gradient(#f4f4f4,#e6e6e6 50%,#d4d4d4)"></div>
<div style="position:absolute;left:74px;top:2px;width:67px;height:19px;background:#fff"></div>
<div style="position:absolute;left:142px;top:2px;width:20px;height:19px;background:linear-gradient(#f4f4f4,#e6e6e6 50%,#d4d4d4)"></div>
<svg style="position:absolute;left:0;top:0" width="217" height="64"><path d="M60 9 L66 9 L63 12 Z" fill="#5868c8"/><path d="M149 13 L155 13 L152 10 Z" fill="#5868c8"/></svg>
<div style="position:absolute;left:114px;top:5px;color:#000;font-size:12px;line-height:12px">1.00</div>
<div style="position:absolute;left:0;top:24px;width:107px;height:40px;background:linear-gradient(#3e3ee8 0%,#2020d0 45%,#0000b2 100%)"></div>
<div style="position:absolute;left:109px;top:24px;width:108px;height:40px;background:linear-gradient(#3e3ee8 0%,#2020d0 45%,#0000b2 100%)"></div>
<div style="position:absolute;left:50px;top:24px;width:57px;height:1px;background:#0c0c8c"></div>
<div style="position:absolute;left:109px;top:24px;width:56px;height:1px;background:#0c0c8c"></div>
<div style="position:absolute;left:2px;top:23px;width:45px;height:1px;background:#0a0a80"></div>
<div style="position:absolute;left:2px;top:24px;width:45px;height:1px;background:#8282ff"></div>
<div style="position:absolute;left:169px;top:23px;width:45px;height:1px;background:#0a0a80"></div>
<div style="position:absolute;left:169px;top:24px;width:45px;height:1px;background:#8282ff"></div>
<div style="position:absolute;left:49px;top:0;width:1px;height:24px;background:#2828b0"></div>
<div style="position:absolute;left:165px;top:0;width:1px;height:24px;background:#2828b0"></div>
<div style="position:absolute;left:21px;top:44px;color:#fff;font-size:12px;line-height:12px;font-weight:bold;letter-spacing:-0.3px">134</div>
<div style="position:absolute;left:46px;top:26px;color:#fff;font-size:33px;line-height:33px;letter-spacing:-1.5px">10</div>
<div style="position:absolute;left:85px;top:28px;color:#fff;font-size:12px;line-height:12px;font-weight:bold">1</div>
<div style="position:absolute;left:131px;top:44px;color:#fff;font-size:12px;line-height:12px;font-weight:bold;letter-spacing:-0.3px">134</div>
<div style="position:absolute;left:157px;top:26px;color:#fff;font-size:33px;line-height:33px;letter-spacing:-1.5px">15</div>
<div style="position:absolute;left:195px;top:28px;color:#fff;font-size:12px;line-height:12px;font-weight:bold">0</div>
</div>
</body></html>
